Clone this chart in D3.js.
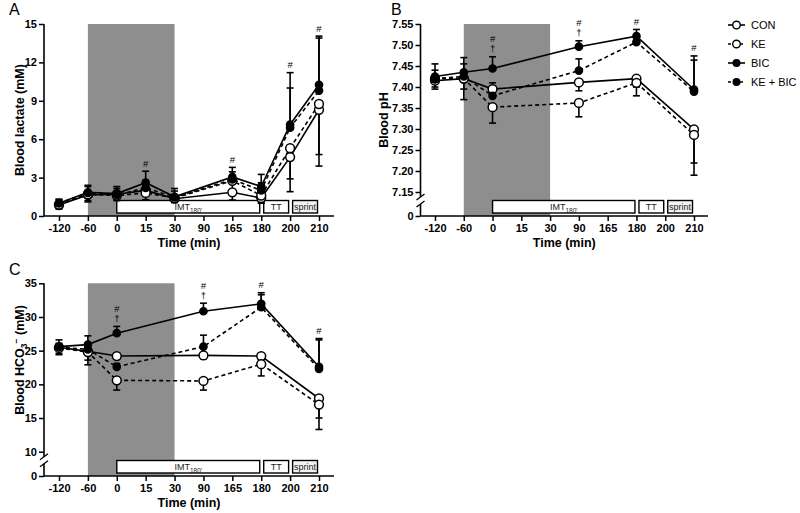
<!DOCTYPE html>
<html><head><meta charset="utf-8">
<script src="https://cdn.jsdelivr.net/npm/d3@7"></script>
<style>
body{margin:0;background:#fff}
svg{display:block}
text{font-family:Arial,"Liberation Sans",Helvetica,sans-serif;fill:#000}
</style>
</head><body>
<svg id="c" width="800" height="513"></svg>
<script>
// ---------- DATA ----------
const timeLabels = ["-120","-60","0","15","30","90","165","180","200","210"];
const seriesNames = ["CON","KE","BIC","KE + BIC"];

// Panel A: blood lactate (mM)
const lactateTimes = ["-120","-60","0","15","30","165","180","200","210"];
const lactateCON   = [0.85, 1.65, 1.70, 2.00, 1.35, 1.85, 1.40, 4.60, 8.30];
const lactateKE    = [0.90, 1.70, 1.60, 1.80, 1.40, 2.75, 1.60, 5.30, 8.75];
const lactateBIC   = [1.00, 1.85, 1.75, 2.60, 1.50, 3.05, 2.30, 7.15, 10.25];
const lactateKEBIC = [1.00, 1.80, 1.65, 2.20, 1.45, 2.85, 2.00, 6.90, 9.80];
const lactateSdCON   = [0.30, 0.55, 0.40, 0.75, 0.30, 0.60, 0.40, 2.70, 4.40];
const lactateSdKE    = [0.30, 0.50, 0.40, 0.55, 0.30, 0.70, 0.50, 2.40, 3.95];
const lactateSdBIC   = [0.30, 0.55, 0.55, 0.90, 0.65, 0.75, 0.95, 4.05, 3.80];
const lactateSdKEBIC = [0.30, 0.50, 0.50, 0.60, 0.50, 0.60, 0.60, 3.10, 4.10];
const lactateHash = ["15","165","200","210"];
const lactateDagger = [];
const lactateTicks = [0,3,6,9,12,15];

// Panel B: blood pH
const phTimes = ["-120","-60","0","90","180","210"];
const phCON   = [7.415, 7.420, 7.395, 7.411, 7.420, 7.299];
const phKE    = [7.420, 7.420, 7.352, 7.362, 7.410, 7.286];
const phBIC   = [7.425, 7.435, 7.444, 7.496, 7.521, 7.394];
const phKEBIC = [7.420, 7.425, 7.379, 7.439, 7.507, 7.389];
const phSdCON   = [0.020, 0.025, 0.015, 0.020, 0.020, 0.080];
const phSdKE    = [0.020, 0.050, 0.038, 0.033, 0.031, 0.096];
const phSdBIC   = [0.030, 0.035, 0.028, 0.014, 0.016, 0.080];
const phSdKEBIC = [0.020, 0.030, 0.031, 0.028, 0.015, 0.075];
const phHash = ["0","90","180","210"];
const phDagger = ["0","90"];
const phTicks = [0,7.15,7.20,7.25,7.30,7.35,7.40,7.45,7.50,7.55];

// Panel C: blood HCO3- (mM)
const hco3Times = ["-120","-60","0","90","180","210"];
const hco3CON   = [25.5, 24.9, 24.2, 24.3, 24.2, 17.9];
const hco3KE    = [25.4, 24.8, 20.6, 20.5, 23.0, 17.0];
const hco3BIC   = [25.6, 25.9, 27.6, 30.85, 31.95, 22.6];
const hco3KEBIC = [25.5, 25.2, 22.6, 25.6, 31.45, 22.3];
const hco3SdCON   = [1.1, 2.0, 0.4, 0.5, 0.5, 2.9];
const hco3SdKE    = [0.8, 1.2, 1.45, 1.35, 1.75, 3.7];
const hco3SdBIC   = [1.0, 1.3, 1.0, 1.2, 1.65, 4.2];
const hco3SdKEBIC = [0.6, 0.8, 0.5, 1.7, 1.85, 4.3];
const hco3Hash = ["0","90","180","210"];
const hco3Dagger = ["0","90"];
const hco3Ticks = [0,10,15,20,25,30,35];

// intervention shading and exercise phases
const shadeFrom = "-60", shadeTo = "30";
const phaseLabels = ["IMT","TT","sprint"];
const phaseSubs   = ["180'","",""];
const phaseStart  = ["0","180","200"];
const phaseEnd    = ["180","200","210"];

// ---------- DRAW ----------
const svg = d3.select("#c");
const styles = [
  {dashed:false, filled:false},
  {dashed:true,  filled:false},
  {dashed:false, filled:true},
  {dashed:true,  filled:true}
];

function drawPanel(cfg){
  const g = svg.append("g");
  const x = d3.scalePoint().domain(timeLabels).range(cfg.xRange);
  const y = d3.scaleLinear().domain(cfg.yDomain).range(cfg.yRange);
  const axisY = cfg.yRange[0];
  const topY = cfg.yRange[cfg.yRange.length-1];

  // shaded period
  g.append("rect")
    .attr("x", x(shadeFrom)).attr("y", topY)
    .attr("width", x(shadeTo)-x(shadeFrom)).attr("height", axisY-topY)
    .attr("fill","#8e8e8e");

  // phase boxes
  phaseLabels.forEach((lab,i)=>{
    const x0 = x(phaseStart[i]) + (i===0?0:2.5);
    const x1 = x(phaseEnd[i]) - 1.5;
    g.append("rect").attr("x",x0).attr("y",axisY-15.5).attr("width",x1-x0).attr("height",12.5)
      .attr("fill", i===2 ? "#f2f2f2" : "#fff").attr("stroke","#000").attr("stroke-width",1.4);
    const t = g.append("text").attr("x",(x0+x1)/2).attr("y",axisY-6).attr("text-anchor","middle")
      .attr("font-size", 9).style("fill","#222");
    t.append("tspan").text(lab);
    if(phaseSubs[i]) t.append("tspan").attr("font-size",6.5).attr("dy",2.5).text(phaseSubs[i]);
  });

  // x axis
  const xAxis = d3.axisBottom(x).tickSize(5).tickPadding(3);
  const gx = g.append("g").attr("transform",`translate(0,${axisY})`).call(xAxis);
  gx.select(".domain").remove();
  gx.selectAll(".tick line").attr("stroke","#000").attr("stroke-width",1.5);
  gx.selectAll(".tick text").attr("font-size",11).attr("font-weight","bold")
    .attr("font-family","Arial, 'Liberation Sans', sans-serif").style("fill","#000");
  g.append("line").attr("x1",cfg.yAxisX).attr("x2",cfg.axisEnd).attr("y1",axisY).attr("y2",axisY)
    .attr("stroke","#000").attr("stroke-width",1.6);

  // y axis
  const yAxis = d3.axisLeft(y).tickValues(cfg.ticks).tickSize(5).tickPadding(2)
    .tickFormat(cfg.fmt);
  const gy = g.append("g").attr("transform",`translate(${cfg.yAxisX},0)`).call(yAxis);
  gy.select(".domain").remove();
  gy.selectAll(".tick line").attr("stroke","#000").attr("stroke-width",1.5);
  gy.selectAll(".tick text").attr("font-size",11).attr("font-weight","bold")
    .attr("font-family","Arial, 'Liberation Sans', sans-serif").style("fill","#000");
  if(cfg.breakAt !== undefined){
    const yb = y(cfg.breakAt);
    const g1 = yb + 5, g2 = yb + 12;
    g.append("line").attr("x1",cfg.yAxisX).attr("x2",cfg.yAxisX).attr("y1",topY).attr("y2",g1)
      .attr("stroke","#000").attr("stroke-width",1.6);
    g.append("line").attr("x1",cfg.yAxisX).attr("x2",cfg.yAxisX).attr("y1",g2).attr("y2",axisY)
      .attr("stroke","#000").attr("stroke-width",1.6);
    [g1,g2].forEach(yy=>{
      g.append("line").attr("x1",cfg.yAxisX-4).attr("x2",cfg.yAxisX+4).attr("y1",yy+3).attr("y2",yy-3)
        .attr("stroke","#000").attr("stroke-width",1.4);
    });
  } else {
    g.append("line").attr("x1",cfg.yAxisX).attr("x2",cfg.yAxisX).attr("y1",topY).attr("y2",axisY)
      .attr("stroke","#000").attr("stroke-width",1.6);
  }

  // series
  const data = cfg.series.map((s,k)=>({
    style: styles[k],
    pts: cfg.times.map((t,i)=>({t, v:s.vals[i], sd:s.sd[i]})).filter(p=>p.v!=null)
  }));
  const line = d3.line().x(p=>x(p.t)).y(p=>y(p.v));
  data.forEach(s=>{
    g.append("path").attr("d",line(s.pts)).attr("fill","none").attr("stroke","#000")
      .attr("stroke-width",1.6).attr("stroke-dasharray", s.style.dashed ? "4,3" : null);
  });
  // error bars: filled groups upwards, open groups downwards
  data.forEach(s=>{
    s.pts.forEach(p=>{
      const ye = s.style.filled ? y(p.v+p.sd) : y(p.v-p.sd);
      g.append("line").attr("x1",x(p.t)).attr("x2",x(p.t)).attr("y1",y(p.v)).attr("y2",ye)
        .attr("stroke","#000").attr("stroke-width",1.6);
      g.append("line").attr("x1",x(p.t)-3.5).attr("x2",x(p.t)+3.5).attr("y1",ye).attr("y2",ye)
        .attr("stroke","#000").attr("stroke-width",1.6);
    });
  });
  // markers
  [0,1,2,3].forEach(k=>{
    const s = data[k];
    s.pts.forEach(p=>{
      g.append("circle").attr("cx",x(p.t)).attr("cy",y(p.v))
        .attr("r", s.style.filled ? 3.6 : 4.4)
        .attr("fill", s.style.filled ? "#000" : "#fff")
        .attr("stroke","#000").attr("stroke-width",1.5);
    });
  });

  // significance symbols
  cfg.times.forEach((t,i)=>{
    const hasH = cfg.hash.includes(t), hasD = cfg.dagger.includes(t);
    if(!hasH && !hasD) return;
    let top = Infinity;
    cfg.series.forEach((s,k)=>{
      if(s.vals[i]==null) return;
      const v = styles[k].filled ? s.vals[i]+s.sd[i] : s.vals[i];
      top = Math.min(top, y(v) - (styles[k].filled?0:4.4));
    });
    let c = top - 8;
    if(hasD){
      g.append("text").attr("x",x(t)).attr("y",c+3.5).attr("text-anchor","middle")
        .attr("font-size",9.5).style("fill","#000").text("†");
      c -= 10;
    }
    if(hasH){
      g.append("text").attr("x",x(t)).attr("y",c+3.5).attr("text-anchor","middle")
        .attr("font-size",9.5).style("fill","#000").text("#");
    }
  });

  // titles
  g.append("text").attr("x",(cfg.yAxisX+cfg.axisEnd)/2).attr("y",axisY+31).attr("text-anchor","middle")
    .attr("font-size",12.5).attr("font-weight","bold").text("Time (min)");
  const yt = g.append("text").attr("transform",`translate(${cfg.titleX},${cfg.titleY}) rotate(-90)`)
    .attr("text-anchor","middle").attr("font-size",12.5).attr("font-weight","bold");
  cfg.yTitle(yt);
  g.append("text").attr("x",cfg.letterX).attr("y",cfg.letterY).attr("font-size",16).text(cfg.letter);
}

drawPanel({
  letter:"A", letterX:9, letterY:15,
  xRange:[59,319], yAxisX:44, axisEnd:334,
  yDomain:[0,15], yRange:[216,24], ticks:lactateTicks, fmt:d3.format("d"),
  times:lactateTimes,
  series:[
    {vals:lactateCON, sd:lactateSdCON},{vals:lactateKE, sd:lactateSdKE},
    {vals:lactateBIC, sd:lactateSdBIC},{vals:lactateKEBIC, sd:lactateSdKEBIC}],
  hash:lactateHash, dagger:lactateDagger,
  titleX:24, titleY:120, yTitle:t=>t.text("Blood lactate (mM)")
});

drawPanel({
  letter:"B", letterX:391, letterY:15,
  xRange:[435,694], yAxisX:420.5, axisEnd:708,
  yDomain:[0,7.15,7.55], yRange:[216,192,24], ticks:phTicks,
  fmt:v=> v===0 ? "0" : d3.format(".2f")(v), breakAt:7.15,
  times:phTimes,
  series:[
    {vals:phCON, sd:phSdCON},{vals:phKE, sd:phSdKE},
    {vals:phBIC, sd:phSdBIC},{vals:phKEBIC, sd:phSdKEBIC}],
  hash:phHash, dagger:phDagger,
  titleX:388, titleY:120, yTitle:t=>t.text("Blood pH")
});

drawPanel({
  letter:"C", letterX:9, letterY:275,
  xRange:[59,319], yAxisX:44, axisEnd:334,
  yDomain:[0,10,35], yRange:[476,451.7,283.3], ticks:hco3Ticks, fmt:d3.format("d"), breakAt:10,
  times:hco3Times,
  series:[
    {vals:hco3CON, sd:hco3SdCON},{vals:hco3KE, sd:hco3SdKE},
    {vals:hco3BIC, sd:hco3SdBIC},{vals:hco3KEBIC, sd:hco3SdKEBIC}],
  hash:hco3Hash, dagger:hco3Dagger,
  titleX:24, titleY:360, yTitle:t=>{
    t.append("tspan").text("Blood HCO");
    t.append("tspan").attr("font-size",8.5).attr("dy",3).text("3");
    t.append("tspan").attr("font-size",8.5).attr("dy",-8).text("−");
    t.append("tspan").attr("dy",5).text(" (mM)");
  }
});

// legend
const leg = svg.append("g");
seriesNames.forEach((n,k)=>{
  const yy = 25 + k*19;
  leg.append("line").attr("x1",728).attr("x2",745).attr("y1",yy).attr("y2",yy)
    .attr("stroke","#000").attr("stroke-width",1.6).attr("stroke-dasharray", styles[k].dashed ? "3,3" : null);
  leg.append("circle").attr("cx",736.5).attr("cy",yy).attr("r", styles[k].filled?3.3:3.8)
    .attr("fill", styles[k].filled?"#000":"#fff").attr("stroke","#000").attr("stroke-width",1.4);
  leg.append("text").attr("x",751).attr("y",yy+4).attr("font-size",11).text(n);
});
</script>
</body></html>
